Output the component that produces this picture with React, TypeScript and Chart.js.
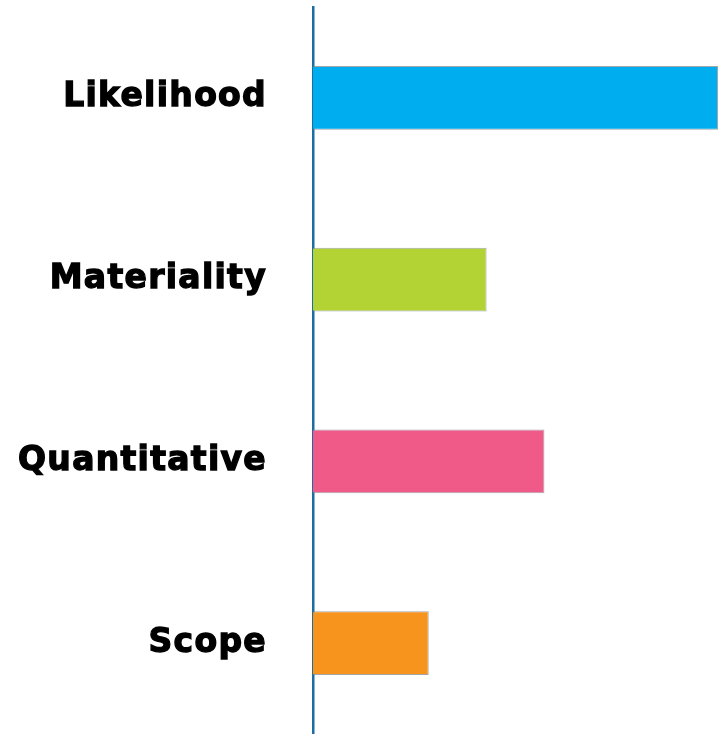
import React, { useEffect, useRef } from "react";
import { Chart, registerables } from "chart.js";

Chart.register(...registerables);

const categories = ["Likelihood", "Materiality", "Quantitative", "Scope"];
const values = [7, 3, 4, 2];
const colors = ["#00aeef", "#b3d335", "#f05a89", "#f7941e"];

const spacingPlugin = {
  id: "letterSpacing",
  beforeDraw(chart: any) {
    (chart.ctx as any).letterSpacing = "1.3px";
  },
};

export default function App() {
  const ref = useRef<HTMLCanvasElement | null>(null);
  useEffect(() => {
    if (!ref.current) return;
    const chart = new Chart(ref.current, {
      type: "bar",
      data: {
        labels: categories,
        datasets: [
          {
            data: values,
            backgroundColor: colors,
            borderColor: "rgba(120,130,135,0.7)",
            borderWidth: 1,
            barPercentage: 0.7,
            categoryPercentage: 0.5,
          },
        ],
      },
      options: {
        indexAxis: "y",
        animation: false,
        responsive: false,
        maintainAspectRatio: false,
        layout: { padding: { top: 7, right: 0, bottom: 0, left: 0 } },
        plugins: { legend: { display: false }, tooltip: { enabled: false } },
        scales: {
          x: { display: false, min: 0, max: 7 },
          y: {
            grid: { display: false },
            border: { display: true, color: "#1d6ca3", width: 2.5 },
            ticks: {
              color: "#000",
              padding: 38,
              textStrokeColor: "#000",
              textStrokeWidth: 1.3,
              font: { family: "'DejaVu Sans'", weight: "bold", size: 33 },
            },
            afterFit: (scale: any) => {
              scale.width = 313;
              scale.paddingTop = 0;
              scale.paddingBottom = 0;
            },
          },
        },
      },
      plugins: [spacingPlugin],
    });
    return () => chart.destroy();
  }, []);
  return (
    <div style={{ position: "absolute", left: 0, top: 0, width: 718, height: 734, background: "#fff" }}>
      <canvas ref={ref} width={718} height={734} style={{ display: "block" }} />
    </div>
  );
}
